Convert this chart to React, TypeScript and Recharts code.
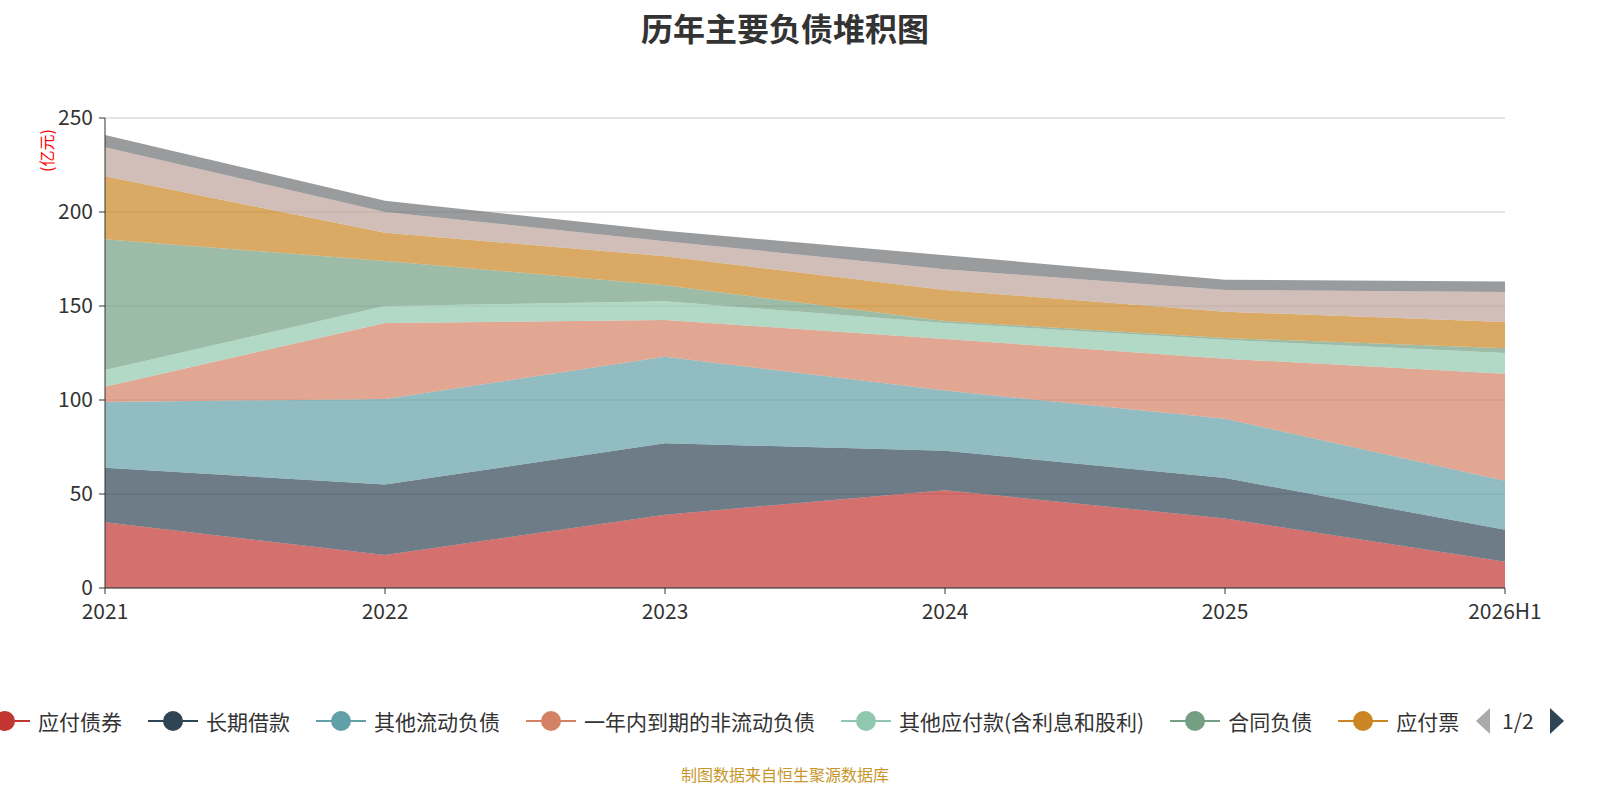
import React from 'react';
import { AreaChart, Area, XAxis, YAxis, CartesianGrid } from 'recharts';

const years = ['2021', '2022', '2023', '2024', '2025', '2026H1'];
const bonds = [35, 17.5, 39, 52, 37, 14];
const longLoans = [29, 37.5, 38, 21, 21.5, 17];
const otherCurrent = [35, 45.5, 46, 32, 31.5, 26];
const dueWithinYear = [8, 40.5, 19.5, 27.5, 32, 57];
const otherPayables = [9, 9, 10, 8.5, 10, 11];
const contractLiab = [69.5, 24, 8.5, 1, 1, 2.5];
const notesPayable = [33.5, 15, 15.5, 16.5, 14, 14];
const accountsPayable = [15.5, 11, 8, 11, 11.5, 16];
const advances = [6.5, 6, 5.5, 7.5, 5.5, 5.5];
const yTicks = [0, 50, 100, 150, 200, 250];

const series = [
  { key: 'bonds', name: '应付债券', values: bonds, color: '#c23531' },
  { key: 'longLoans', name: '长期借款', values: longLoans, color: '#2f4554' },
  { key: 'otherCurrent', name: '其他流动负债', values: otherCurrent, color: '#61a0a8' },
  { key: 'due', name: '一年内到期的非流动负债', values: dueWithinYear, color: '#d48265' },
  { key: 'otherPay', name: '其他应付款(含利息和股利)', values: otherPayables, color: '#91c7ae' },
  { key: 'contract', name: '合同负债', values: contractLiab, color: '#749f83' },
  { key: 'notes', name: '应付票据', values: notesPayable, color: '#ca8622' },
  { key: 'accounts', name: '应付账款', values: accountsPayable, color: '#bda29a' },
  { key: 'adv', name: '预收款项', values: advances, color: '#6e7074' },
];

const data = years.map((y, i) => {
  const row: any = { year: y };
  series.forEach((s) => (row[s.key] = s.values[i]));
  return row;
});

const font = '"Microsoft YaHei", "Noto Sans CJK SC", sans-serif';

export default function App() {
  return (
    <div style={{ position: 'absolute', left: 0, top: 0, width: 1600, height: 800, background: '#fff', fontFamily: font }}>
      <div style={{ position: 'absolute', top: 4, width: 1570, textAlign: 'center', fontSize: 32, fontWeight: 'bold', color: '#333' }}>
        历年主要负债堆积图
      </div>
      <div style={{ position: 'absolute', left: 34, top: 122, transform: 'rotate(-90deg)', transformOrigin: 'left top', fontSize: 16, color: 'red', width: 60, translate: '0 50px' }}>
        (亿元)
      </div>
      <AreaChart width={1600} height={640} data={data} margin={{ top: 118, right: 95, bottom: 22, left: 45 }}>
        <CartesianGrid vertical={false} stroke="#ccc" />
        <XAxis dataKey="year" tick={{ fontSize: 21, fill: '#333' }} stroke="#333" tickLine tickMargin={10} height={30} />
        <YAxis ticks={yTicks} domain={[0, 250]} width={60} tick={{ fontSize: 21, fill: '#333' }} stroke="#333" tickMargin={6} />
        {series.map((s) => (
          <Area key={s.key} dataKey={s.key} name={s.name} stackId="a" type="linear" stroke="none" fill={s.color} fillOpacity={0.7} isAnimationActive={false} />
        ))}
      </AreaChart>
      <div style={{ position: 'absolute', top: 704, left: -20, width: 1620, height: 34, overflow: 'hidden', display: 'flex', alignItems: 'center', fontSize: 21, color: '#333', whiteSpace: 'nowrap' }}>
        <div style={{ display: 'flex', alignItems: 'center', width: 1480, overflow: 'hidden' }}>
          {series.slice(0, 7).map((s) => (
            <div key={s.key} style={{ display: 'flex', alignItems: 'center', marginRight: 26 }}>
              <svg width={50} height={30}>
                <line x1={0} y1={15} x2={50} y2={15} stroke={s.color} strokeWidth={2} />
                <circle cx={25} cy={15} r={10} fill={s.color} />
              </svg>
              <span style={{ marginLeft: 8 }}>{s.name}</span>
            </div>
          ))}
        </div>
        <svg width={140} height={34}>
          <polygon points="30,4 30,30 16,17" fill="#aaa" />
          <text x={42} y={25} fontSize={21} fill="#333">1/2</text>
          <polygon points="90,4 90,30 104,17" fill="#2f4554" />
        </svg>
      </div>
      <div style={{ position: 'absolute', top: 762, width: 1570, textAlign: 'center', fontSize: 16, color: '#c8962a' }}>
        制图数据来自恒生聚源数据库
      </div>
    </div>
  );
}
